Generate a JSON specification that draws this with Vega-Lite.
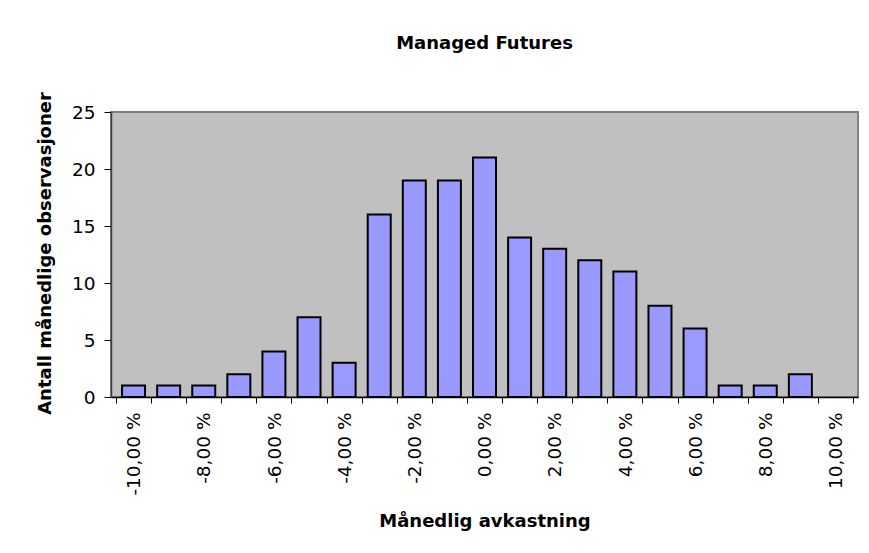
{
  "$schema": "https://vega.github.io/schema/vega-lite/v6.json",
  "width": 747,
  "height": 285,
  "autosize": "none",
  "padding": {"left": 111, "top": 112, "right": 11, "bottom": 156},
  "background": "white",
  "title": {
    "text": "Managed Futures",
    "font": "DejaVu Sans",
    "fontSize": 18,
    "fontWeight": "bold",
    "color": "#000000",
    "anchor": "middle",
    "baseline": "alphabetic",
    "offset": 25
  },
  "data": {
    "values": [
      {"avkastning": -10, "antall": 1},
      {"avkastning": -9, "antall": 1},
      {"avkastning": -8, "antall": 1},
      {"avkastning": -7, "antall": 2},
      {"avkastning": -6, "antall": 4},
      {"avkastning": -5, "antall": 7},
      {"avkastning": -4, "antall": 3},
      {"avkastning": -3, "antall": 16},
      {"avkastning": -2, "antall": 19},
      {"avkastning": -1, "antall": 19},
      {"avkastning": 0, "antall": 21},
      {"avkastning": 1, "antall": 14},
      {"avkastning": 2, "antall": 13},
      {"avkastning": 3, "antall": 12},
      {"avkastning": 4, "antall": 11},
      {"avkastning": 5, "antall": 8},
      {"avkastning": 6, "antall": 6},
      {"avkastning": 7, "antall": 1},
      {"avkastning": 8, "antall": 1},
      {"avkastning": 9, "antall": 2}
    ]
  },
  "mark": {"type": "bar", "size": 23, "fill": "#9999FF", "stroke": "#000000", "strokeWidth": 2},
  "encoding": {
    "x": {
      "field": "avkastning",
      "type": "quantitative",
      "scale": {"domain": [-10.5, 10.5], "nice": false, "zero": false},
      "axis": {
        "title": "Månedlig avkastning",
        "titleFont": "DejaVu Sans",
        "titleFontSize": 18,
        "titleFontWeight": "bold",
        "titleColor": "#000000",
        "titleX": 373.5,
        "titleY": 129,
        "titleAlign": "center",
        "titleBaseline": "alphabetic",
        "values": [-10.5, -9.5, -8.5, -7.5, -6.5, -5.5, -4.5, -3.5, -2.5, -1.5, -0.5, 0.5, 1.5, 2.5, 3.5, 4.5, 5.5, 6.5, 7.5, 8.5, 9.5, 10.5],
        "labelExpr": "abs(datum.value + 0.5) % 2 == 0 && datum.value < 10 ? ((datum.value + 0.5 < 0 ? '-' : '') + replace(format(abs(datum.value + 0.5), '.2f'), '.', ',') + ' %') : ''",
        "labelOffset": 17.8,
        "labelAngle": 270,
        "labelAlign": "right",
        "labelBaseline": "middle",
        "labelPadding": 9,
        "labelOverlap": false,
        "labelFlush": false,
        "labelFont": "DejaVu Sans",
        "labelFontSize": 18.5,
        "labelColor": "#000000",
        "tickSize": 6,
        "tickColor": "#000000",
        "tickWidth": 1,
        "domainColor": "#000000",
        "domainWidth": 1.5,
        "grid": false
      }
    },
    "y": {
      "field": "antall",
      "type": "quantitative",
      "scale": {"domain": [0, 25], "nice": false},
      "axis": {
        "title": "Antall månedlige observasjoner",
        "titleFont": "DejaVu Sans",
        "titleFontSize": 18,
        "titleFontWeight": "bold",
        "titleColor": "#000000",
        "titleAngle": 270,
        "titleX": -66,
        "titleY": 141,
        "titleAlign": "center",
        "titleBaseline": "middle",
        "values": [0, 5, 10, 15, 20, 25],
        "labelFont": "DejaVu Sans",
        "labelFontSize": 18.5,
        "labelColor": "#000000",
        "labelPadding": 9,
        "labelBaseline": "middle",
        "labelFlush": false,
        "tickSize": 7,
        "tickColor": "#000000",
        "tickWidth": 1,
        "domainColor": "#404040",
        "domainWidth": 1.5,
        "grid": false
      }
    }
  },
  "config": {
    "view": {"fill": "#C0C0C0", "stroke": "#808080", "strokeWidth": 2}
  }
}
